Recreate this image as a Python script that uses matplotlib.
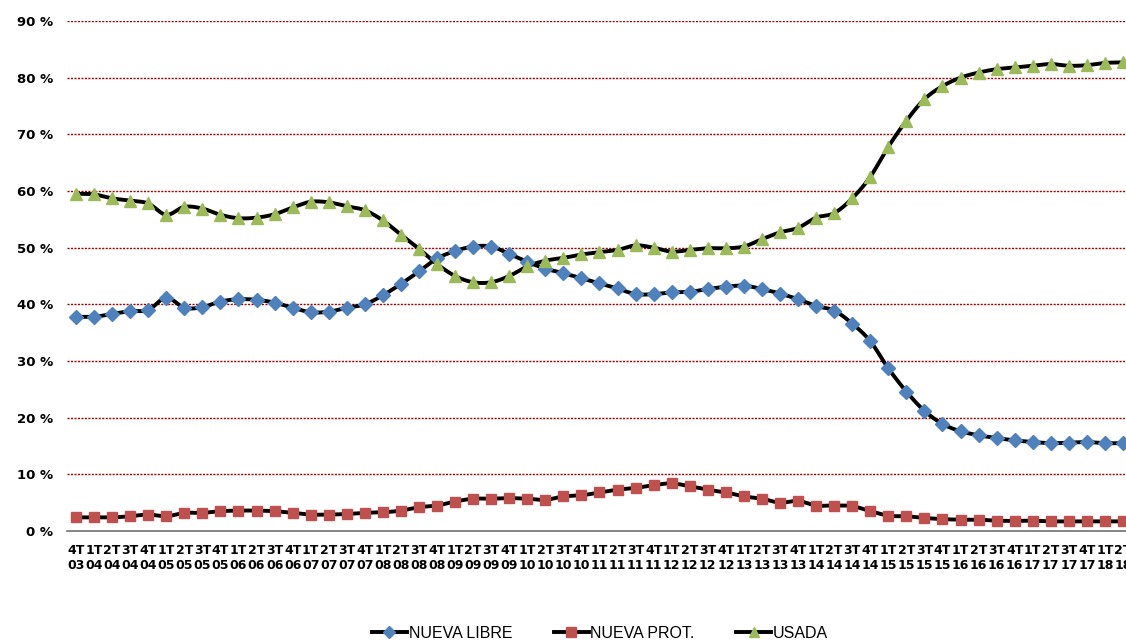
import numpy as np
import matplotlib
matplotlib.use("Agg")
import matplotlib.pyplot as plt
from matplotlib.lines import Line2D

# trimestres 4T03 .. 2T18
trimestres = ["4T"] + [f"{q}T" for _ in range(2004, 2018) for q in range(1, 5)] + ["1T", "2T"]
anios = ["03"] + [f"{a % 100:02d}" for a in range(2004, 2018) for _ in range(4)] + ["18", "18"]

nueva_libre = [37.8, 37.8, 38.3, 38.8, 39.0, 41.2, 39.4, 39.5, 40.5, 40.9,
               40.8, 40.3, 39.4, 38.6, 38.7, 39.4, 40.0, 41.6, 43.6, 45.8,
               48.1, 49.4, 50.2, 50.2, 48.9, 47.5, 46.3, 45.5, 44.6, 43.7,
               42.8, 41.8, 41.8, 42.1, 42.2, 42.7, 43.1, 43.3, 42.7, 41.9,
               40.9, 39.7, 38.9, 36.6, 33.5, 28.7, 24.6, 21.2, 18.9, 17.6,
               16.9, 16.4, 16.0, 15.7, 15.5, 15.6, 15.7, 15.5, 15.5]
nueva_prot = [2.4, 2.4, 2.4, 2.6, 2.9, 2.6, 3.2, 3.2, 3.5, 3.6,
              3.6, 3.5, 3.2, 2.9, 2.9, 3.0, 3.2, 3.3, 3.6, 4.2,
              4.5, 5.2, 5.7, 5.7, 5.8, 5.7, 5.5, 6.1, 6.3, 6.8,
              7.3, 7.6, 8.1, 8.4, 7.9, 7.3, 6.8, 6.1, 5.7, 5.0,
              5.3, 4.5, 4.5, 4.4, 3.5, 2.7, 2.6, 2.3, 2.1, 2.0,
              2.0, 1.8, 1.8, 1.8, 1.7, 1.7, 1.7, 1.7, 1.7]
usada = [59.5, 59.4, 58.7, 58.3, 57.8, 55.8, 57.2, 56.9, 55.8, 55.2,
         55.3, 55.9, 57.1, 58.1, 58.0, 57.3, 56.6, 54.8, 52.3, 49.8,
         47.1, 45.0, 43.9, 43.9, 45.0, 46.7, 47.7, 48.2, 48.8, 49.2,
         49.6, 50.4, 50.0, 49.3, 49.6, 49.9, 49.9, 50.2, 51.5, 52.7,
         53.5, 55.3, 56.1, 58.7, 62.5, 67.8, 72.4, 76.2, 78.5, 80.0,
         80.9, 81.5, 81.8, 82.1, 82.4, 82.1, 82.2, 82.6, 82.7]

series = [("NUEVA LIBRE", nueva_libre, "D", "#4F81BD", 7.5),
          ("NUEVA PROT.", nueva_prot, "s", "#C0504D", 7.5),
          ("USADA", usada, "^", "#9BBB59", 8.5)]


def suavizar(x, y, n=12):
    # curva Catmull-Rom entre puntos consecutivos (linea suavizada)
    x = np.asarray(x, float)
    y = np.asarray(y, float)
    px = np.concatenate([[x[0]], x, [x[-1]]])
    py = np.concatenate([[y[0]], y, [y[-1]]])
    t = np.linspace(0, 1, n, endpoint=False)
    xs, ys = [], []
    for i in range(1, len(px) - 2):
        for p, out in ((px, xs), (py, ys)):
            p0, p1, p2, p3 = p[i - 1], p[i], p[i + 1], p[i + 2]
            out.extend(0.5 * (2 * p1 + (-p0 + p2) * t
                              + (2 * p0 - 5 * p1 + 4 * p2 - p3) * t ** 2
                              + (-p0 + 3 * p1 - 3 * p2 + p3) * t ** 3))
    xs.append(x[-1])
    ys.append(y[-1])
    return xs, ys


fig = plt.figure(figsize=(11.26, 6.44), dpi=100)
ax = fig.add_axes([67 / 1126, 1 - 531 / 644, 1065 / 1126, 510 / 644])

x = np.arange(len(trimestres))
for nombre, vals, mk, col, ms in series:
    sx, sy = suavizar(x, vals)
    ax.plot(sx, sy, color="black", lw=2.8, solid_capstyle="round", zorder=3)
    ax.plot(x, vals, ls="none", marker=mk, ms=ms, color=col,
            markeredgecolor=col, zorder=4)

ax.set_xlim(-0.5, len(trimestres) - 0.5)
ax.set_ylim(0, 90)
ax.set_yticks(range(0, 91, 10))
ax.set_yticklabels([f"{v} %" for v in range(0, 91, 10)],
                   fontsize=9.5, fontweight="bold")
for v in range(10, 91, 10):
    ax.axhline(v, color="#A00000", lw=1.0, ls=(0, (1.5, 1)), zorder=1)

ax.set_xticks(x)
ax.set_xticklabels([f"{q}\n{a}" for q, a in zip(trimestres, anios)],
                   fontsize=9, fontweight="bold", linespacing=1.25)
ax.tick_params(axis="both", length=0, pad=10)
ax.tick_params(axis="x", pad=9)

for s in ["top", "right", "left"]:
    ax.spines[s].set_visible(False)
ax.spines["bottom"].set_color("#707070")
ax.spines["bottom"].set_linewidth(1.2)

handles = [Line2D([0], [0], color="black", lw=2.8, marker=mk, ms=ms - 1,
                  markerfacecolor=col, markeredgecolor=col)
           for _, _, mk, col, ms in series]
fig.legend(handles, [s[0] for s in series], loc="center",
           bbox_to_anchor=(600 / 1126, 1 - 633 / 644), ncol=3, frameon=False,
           prop={"family": "Liberation Sans", "size": 11.5},
           handlelength=2.2, handletextpad=0.1, columnspacing=2.6)

fig.savefig("out.png", dpi=100)
